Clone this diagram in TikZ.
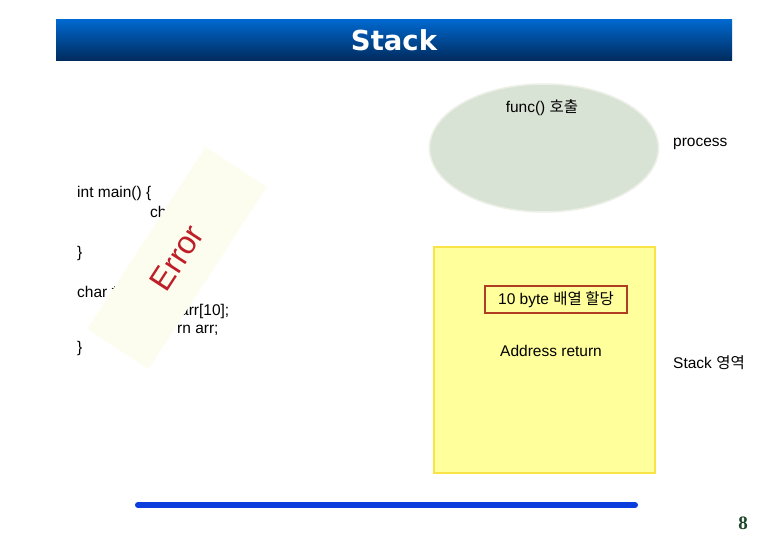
\documentclass[tikz,border=0pt]{standalone}
\usepackage{fontspec}
\setmainfont{Liberation Sans}
\newfontfamily\krfont{Noto Sans CJK KR}
\newfontfamily\titlefont{DejaVu Sans}
\newfontfamily\numfont{Liberation Serif}
\usepackage{xcolor}
\usepackage{tikz}
\usetikzlibrary{shapes.geometric}
\definecolor{TitleTop}{RGB}{0,104,206}
\definecolor{TitleBot}{RGB}{0,42,92}
\definecolor{Sage}{RGB}{217,227,213}
\definecolor{SageEdge}{RGB}{236,240,230}
\definecolor{Lemon}{RGB}{255,255,155}
\definecolor{LemonEdge}{RGB}{248,228,70}
\definecolor{Brick}{RGB}{175,60,35}
\definecolor{Paper}{RGB}{252,253,238}
\definecolor{ErrRed}{RGB}{190,30,40}
\definecolor{Rule}{RGB}{12,62,222}
\definecolor{PageNum}{RGB}{30,70,40}
\tikzset{
  codeline/.style={anchor=west,inner sep=0pt,font=\fontsize{15.5}{18}\selectfont},
  plain/.style={inner sep=0pt,font=\fontsize{15.5}{18}\selectfont},
  callbubble/.style={ellipse,fill=Sage,draw=SageEdge,line width=1.5pt,minimum width=229pt,minimum height=128pt},
  stackbox/.style={fill=Lemon,draw=LemonEdge,line width=2.5pt,minimum width=221pt,minimum height=226pt},
  allocbox/.style={draw=Brick,line width=1.3pt,minimum width=142pt,minimum height=27pt,inner sep=0pt,font=\fontsize{15.5}{18}\selectfont},
  errorband/.style={fill=Paper,rotate=57,minimum width=217pt,minimum height=73pt,text=ErrRed,font=\fontsize{32}{34}\selectfont}
}
\begin{document}
\begin{tikzpicture}[x=1pt,y=-1pt]
\useasboundingbox[fill=white] (0,0) rectangle (780,540);
% title bar
\shade[top color=TitleTop,bottom color=TitleBot] (56,20) rectangle (732,61);
\node[text=white,font=\titlefont\bfseries\fontsize{27.5}{30}\selectfont] (title) at (394,40) {Stack};
% code fragments
\node[codeline] (mainhead) at (77,193) {int main() \{};
\node[codeline] (mainbody) at (150,212) {ch};
\node[codeline] (mainend) at (77,253) {\}};
\node[codeline] (funchead) at (77,292) {char *};
\node[codeline] (funcarr) at (180,311) {arr[10];};
\node[codeline] (funcret) at (177,330) {rn arr;};
\node[codeline] (funcend) at (77,348) {\}};
\node[errorband] (error) at (177,258) {Error};
% process
\node[callbubble] (bubble) at (544,148) {};
\node[plain] (call) at (542,108) {func() {\krfont 호출}};
\node[plain,anchor=west] (process) at (673,144) {process};
% stack
\node[stackbox] (stack) at (544.5,360) {};
\node[allocbox] (alloc) at (556,299.5) {10 byte {\krfont 배열 할당}};
\node[plain,anchor=west] (addr) at (500,351) {Address return};
\node[plain,anchor=west] (stacklabel) at (673,363) {Stack {\krfont 영역}};
% footer
\coordinate (ruleL) at (138,505);
\coordinate (ruleR) at (635,505);
\draw[Rule,line width=6pt,line cap=round] (ruleL) -- (ruleR);
\node[text=PageNum,font=\numfont\bfseries\fontsize{19}{20}\selectfont] (page) at (743,523) {8};
\end{tikzpicture}
\end{document}
